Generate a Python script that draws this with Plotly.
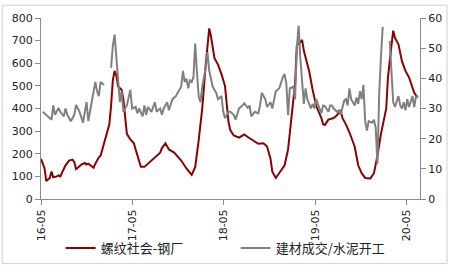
import numpy as np
import pandas as pd
import plotly.graph_objects as go

START = pd.Timestamp("2016-05-01")

# 螺纹社会-钢厂 (left axis), week offsets from 2016-05-01
rebar_weeks = [0, 2, 3, 5, 6, 7, 9, 10, 11, 13, 14, 16, 18, 19, 20, 21, 23, 25, 26, 27, 28, 30, 31, 33, 34, 35,
               37, 39, 40, 41, 42, 43, 44, 46, 47, 48, 49, 51, 53, 54, 56, 57, 59, 62, 65, 68, 69, 71, 73, 76,
               80, 83, 86, 88, 90, 92, 94, 96, 97, 99, 101, 103, 105, 106, 107, 108, 110, 113, 116, 118, 121,
               124, 127, 129, 131, 132, 134, 136, 139, 141, 143, 145, 146, 149, 150, 151, 153, 155, 157, 160,
               161, 162, 164, 167, 169, 171, 172, 174, 176, 179, 181, 183, 185, 188, 190, 192, 194, 197, 198,
               200, 201, 202, 204, 206, 208, 210, 212, 213, 215]
rebar_vals = [177, 136, 79, 93, 121, 96, 100, 104, 100, 135, 149, 170, 174, 163, 132, 138, 152, 159, 152, 156, 149,
              138, 156, 184, 191, 219, 274, 330, 413, 525, 566, 545, 497, 483, 441, 371, 288, 263, 246, 219,
              163, 142, 142, 163, 184, 205, 225, 246, 219, 205, 170, 135, 107, 142, 260, 399, 594, 754, 719,
              622, 594, 552, 500, 430, 340, 305, 281, 271, 285, 274, 257, 244, 246, 232, 177, 121, 93, 114,
              149, 219, 358, 511, 678, 703, 655, 622, 566, 483, 413, 358, 330, 327, 351, 358, 371, 392, 358,
              330, 295, 232, 149, 114, 93, 91, 114, 191, 288, 399, 538, 678, 744, 712, 684, 608, 566, 538,
              490, 469, 448]

# 建材成交/水泥开工 (right axis); None marks missing weeks
ratio_weeks = [1, 3, 5, 6, 7, 8, 10, 11, 13, 14, 15, 17, 19, 20, 22, 24, 25, 26, 27, 29, 31, 32, 33, 34, 36, 37,
               40, 41, 42, 44, 45, 46, 47, 49, 51, 52, 54, 55, 56, 58, 59, 60, 61, 63, 65, 66, 68, 69, 70, 72,
               73, 75, 77, 78, 79, 80, 81, 82, 83, 84, 85, 86, 87, 88, 89, 90, 91, 92, 94, 95, 96, 97, 98, 100,
               101, 103, 104, 105, 107, 108, 110, 111, 113, 115, 116, 118, 119, 120, 122, 124, 125, 126, 128,
               129, 131, 132, 133, 134, 136, 137, 138, 139, 140, 141, 142, 144, 145, 146, 147, 148, 149, 150,
               151, 152, 154, 155, 156, 157, 159, 160, 161, 162, 164, 165, 166, 167, 169, 170, 171, 173, 174,
               175, 176, 177, 179, 180, 181, 182, 183, 184, 185, 186, 187, 189, 190, 191, 192, 193, 194, 195,
               197, 199, 200, 201, 202, 204, 205, 206, 207, 208, 209, 210, 212, 213, 214, 215]
ratio_vals = [28.9, 27.9, 26.8, 26.3, 31.0, 27.9, 30.2, 28.9, 27.4, 30.0, 27.9, 25.8, 27.9, 31.2, 28.9, 25.3, 28.9,
              32.1, 25.8, 32.1, 38.8, 35.7, 34.1, 38.8, 37.8, None,
              43.5, 50.8, 54.5, 41.4, 32.1, 35.7, 28.9, 31.0, 36.2, 30.0, 30.5, 28.4, 30.0, 27.4, 31.0, 27.9,
              30.5, 28.9, 32.1, 28.9, 30.0, 27.9, 30.0, 32.1, 29.4, 33.1, 34.1, 35.2, 36.2, 37.2, 42.5, 38.8,
              39.9, 36.7, 39.3, 38.8, 40.4, 51.5, 42.0, 34.0, 32.1, 37.2, 43.5, 48.7, 42.5, 39.3, 37.2, 35.2,
              33.1, 34.1, 28.9, 26.8, 28.9, 28.9, 27.9, 26.3, 30.0, 31.0, 31.7, 30.2, 31.0, 27.4, 28.9, 28.4,
              31.0, 35.2, 33.1, 30.5, 32.1, 30.0, 33.1, 35.7, 36.7, 38.8, 40.4, 41.4, 38.3, 27.9, 36.7, 37.2,
              33.1, 50.0, 57.5, 46.6, 40.4, 31.5, 36.7, 33.1, 30.0, 31.5, 30.0, 33.1, 30.0, 28.4, 31.0, 30.8,
              28.9, 31.0, 31.0, 30.0, 28.9, 29.4, 27.9, 32.6, 33.1, 31.0, 36.7, 33.1, 31.0, 33.6, 31.5, 35.7,
              33.1, 37.8, 25.8, 22.7, 25.8, 25.3, 26.3, 23.7, 11.7, 35.0, 47.0, 57.0,
              None, 52.4, 40.4, 32.1, 30.5, 34.1, 31.0, 30.0, 32.1, 29.4, 33.1, 30.5, 34.1, 30.5, 34.1, 33.6]

rebar_dates = START + pd.to_timedelta(np.array(rebar_weeks) * 7, unit="D")
ratio_dates = START + pd.to_timedelta(np.array(ratio_weeks) * 7, unit="D")

tick_dates = ["2016-05-01", "2017-05-01", "2018-05-01", "2019-05-01", "2020-05-01"]
tick_text = ["16-05", "17-05", "18-05", "19-05", "20-05"]

FONT = "DejaVu Sans, Noto Sans CJK SC, sans-serif"
AX = "#8c8c8c"

fig = go.Figure()
fig.add_trace(go.Scatter(x=rebar_dates, y=rebar_vals, name="螺纹社会-钢厂", mode="lines",
                         line=dict(color="#8b0000", width=2)))
fig.add_trace(go.Scatter(x=ratio_dates, y=ratio_vals, name="建材成交/水泥开工", mode="lines",
                         line=dict(color="#808080", width=2), yaxis="y2"))

L, R, T, B = 40, 28, 14, 69
W, H = 454, 275
pw, ph = W - L - R, H - T - B

fig.update_layout(
    width=W, height=H,
    margin=dict(l=L, r=R, t=T, b=B),
    paper_bgcolor="white", plot_bgcolor="white",
    font=dict(family=FONT, size=11, color="#222"),
    showlegend=True,
    legend=dict(orientation="h", x=(60 - L) / pw, xanchor="left", y=-(258 - (T + ph)) / ph, yanchor="middle",
                font=dict(size=13, family="Noto Sans CJK SC, DejaVu Sans"), itemwidth=30,
                entrywidth=130, entrywidthmode="pixels", bgcolor="rgba(0,0,0,0)"),
    xaxis=dict(type="date", range=["2016-05-01", "2020-06-23"], tickvals=tick_dates, ticktext=tick_text,
               tickangle=-90, showgrid=False, showline=True, linecolor=AX, linewidth=1,
               ticks="outside", ticklen=5, tickcolor=AX, zeroline=False),
    yaxis=dict(range=[0, 800], dtick=100, showgrid=False, showline=True, linecolor=AX, linewidth=1,
               ticks="outside", ticklen=5, tickcolor=AX, zeroline=False),
    yaxis2=dict(range=[0, 60], dtick=10, overlaying="y", side="right", showgrid=False, showline=True,
                linecolor=AX, linewidth=1, ticks="outside", ticklen=5, tickcolor=AX, zeroline=False),
    shapes=[dict(type="rect", xref="paper", yref="paper",
                 x0=-(L - 0.5) / pw, x1=1 + (R - 0.5) / pw, y0=-(B - 0.5) / ph, y1=1 + (T - 0.5) / ph,
                 line=dict(color="#d0d0d0", width=1), fillcolor="rgba(0,0,0,0)", layer="below")],
)

fig.write_html("out.html")
